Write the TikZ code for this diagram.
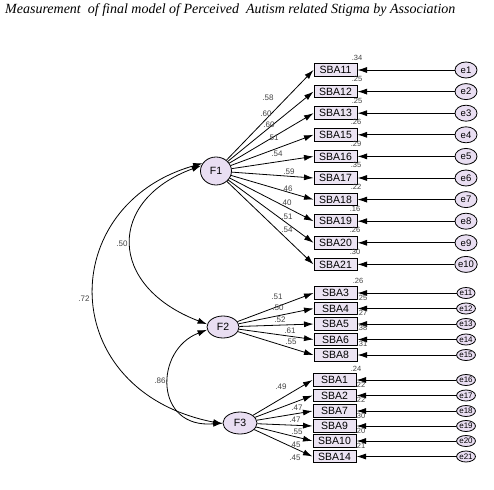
\documentclass[tikz,border=0pt]{standalone}
\usepackage{fontspec}
\setmainfont{Liberation Serif}
\newfontfamily\arialf{Liberation Sans}
\usetikzlibrary{arrows.meta,shapes.geometric}
\definecolor{boxfill}{HTML}{ECE4F3}
\definecolor{latfill}{HTML}{E9DEF2}
\definecolor{numgray}{HTML}{444444}
\tikzset{
  obs/.style={draw, line width=1pt, fill=boxfill, minimum width=43pt, minimum height=12.5pt, inner sep=0pt, font=\arialf\fontsize{10.5}{10.5}\selectfont},
  lat/.style={draw, line width=0.8pt, ellipse, fill=latfill, inner sep=0pt, font=\arialf\fontsize{10.5}{10.5}\selectfont},
  errbig/.style={draw, line width=0.8pt, ellipse, fill=latfill, inner sep=0pt, minimum width=22pt, minimum height=16pt, font=\arialf\fontsize{9.5}{9.5}\selectfont},
  errsmall/.style={draw, line width=0.8pt, ellipse, fill=latfill, inner sep=0pt, minimum width=12pt, minimum height=11pt, font=\arialf\fontsize{8}{8}\selectfont},
  arr/.style={-{Latex[length=9.5pt,width=6pt]}, line width=0.8pt},
  dbl/.style={{Latex[length=9.5pt,width=6pt]}-{Latex[length=9.5pt,width=6pt]}, line width=0.8pt},
  num/.style={inner sep=0pt, text=numgray, font=\arialf\fontsize{7.5}{7.5}\selectfont},
  lab/.style={inner sep=0pt, text=numgray, font=\arialf\fontsize{8}{8}\selectfont},
  ttl/.style={inner sep=0pt, anchor=west, font=\itshape\fontsize{14}{14}\selectfont}
}
\begin{document}
\begin{tikzpicture}[x=1pt,y=-1pt]
\useasboundingbox (0,0) rectangle (494,489);
\fill[white] (0,0) rectangle (494,489);

\node[ttl] (title) at (5,10) {Measurement\ \ of final model of Perceived\ \ Autism related Stigma by Association};

% latent factors
\node[lat, minimum width=31pt, minimum height=28pt] (F1) at (216,171) {F1};
\node[lat, minimum width=32pt, minimum height=22pt] (F2) at (223,327) {F2};
\node[lat, minimum width=34pt, minimum height=22pt] (F3) at (240,423) {F3};

% F1 indicators
\foreach \n/\y/\e in {11/70/1, 12/91.6/2, 13/113.2/3, 15/134.8/4, 16/156.4/5, 17/178/6, 18/199.6/7, 19/221.2/8, 20/242.8/9, 21/264.4/10} {
  \node[obs] (SBA\n) at (335.5,\y) {SBA\n};
  \node[errbig] (e\e) at (466,\y) {e\e};
  \draw[arr] (F1) -- (SBA\n.west);
  \draw[arr] (e\e) -- (SBA\n.east);
}
% F2 indicators
\foreach \n/\y/\e in {3/293/11, 4/308.5/12, 5/324/13, 6/339.5/14, 8/355/15} {
  \node[obs] (SBA\n) at (335.5,\y) {SBA\n};
  \node[errsmall] (e\e) at (466,\y) {e\e};
  \draw[arr] (F2) -- (SBA\n.west);
  \draw[arr] (e\e) -- (SBA\n.east);
}
% F3 indicators
\foreach \n/\y/\e in {1/380/16, 2/395.5/17, 7/411/18, 9/426/19, 10/441/20, 14/456.5/21} {
  \node[obs] (SBA\n) at (334.5,\y) {SBA\n};
  \node[errsmall] (e\e) at (466,\y) {e\e};
  \draw[arr] (F3) -- (SBA\n.west);
  \draw[arr] (e\e) -- (SBA\n.east);
}

% covariances
\draw[dbl] (F1.160) .. controls (107,200) and (107,286) .. (F2.170);
\draw[dbl] (F1.150) .. controls (55,205) and (55,391) .. (F3.183);
\draw[dbl] (F2.190) .. controls (154,350) and (154,429) .. (F3.180);
\node[lab] (c12) at (122,244) {.50};
\node[lab] (c13) at (84,299) {.72};
\node[lab] (c23) at (160,381) {.86};

% loadings F1
\node[lab] (l11) at (268,98) {.58};
\node[lab] (l12) at (266,114) {.60};
\node[lab] (l13) at (269,125) {.60};
\node[lab] (l15) at (273,138) {.51};
\node[lab] (l16) at (277,154) {.54};
\node[lab] (l17) at (289,172) {.59};
\node[lab] (l18) at (287,189) {.46};
\node[lab] (l19) at (286,203) {.40};
\node[lab] (l20) at (287,217) {.51};
\node[lab] (l21) at (287,230) {.54};
% loadings F2
\node[lab] (l3) at (277,297) {.51};
\node[lab] (l4) at (278,308) {.50};
\node[lab] (l5) at (280,320) {.52};
\node[lab] (l6) at (290,331) {.61};
\node[lab] (l8) at (291,342) {.55};
% loadings F3
\node[lab] (l1) at (281,387) {.49};
\node[lab] (l2) at (297,408) {.47};
\node[lab] (l7) at (295,420) {.47};
\node[lab] (l9) at (297,432) {.55};
\node[lab] (l10) at (295,445) {.45};
\node[lab] (l14) at (295,458) {.45};

% squared multiple correlations F1
\node[num] (r11) at (357,58) {.34};
\node[num] (r12) at (357,79) {.25};
\node[num] (r13) at (357,100.5) {.25};
\node[num] (r15) at (356,122) {.26};
\node[num] (r16) at (356,143.5) {.29};
\node[num] (r17) at (356,165) {.35};
\node[num] (r18) at (356,187) {.22};
\node[num] (r19) at (355,208.5) {.16};
\node[num] (r20) at (355,230) {.26};
\node[num] (r21) at (355,251.5) {.30};
% F2
\node[num] (r3) at (358,281) {.26};
\node[num] (r4) at (362,298) {.25};
\node[num] (r5) at (362,313) {.27};
\node[num] (r6) at (362,328) {.38};
\node[num] (r8) at (362,344) {.31};
% F3
\node[num] (r1) at (356,368.5) {.24};
\node[num] (r2) at (360,385) {.22};
\node[num] (r7) at (360,400) {.22};
\node[num] (r9) at (360,416) {.30};
\node[num] (r10) at (360,431) {.20};
\node[num] (r14) at (360,446) {.21};
\end{tikzpicture}
\end{document}
